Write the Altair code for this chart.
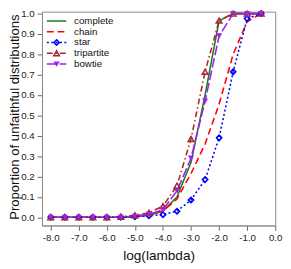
import altair as alt
import pandas as pd

log_lambda = [-8.0, -7.5, -7.0, -6.5, -6.0, -5.5, -5.0, -4.5, -4.0, -3.5, -3.0, -2.5, -2.0, -1.5, -1.0, -0.5]

complete = [0, 0, 0, 0, 0, 0, 0.003, 0.010, 0.030, 0.100, 0.270, 0.600, 0.965, 1.0, 1.0, 1.0]
chain = [0, 0, 0, 0, 0, 0, 0.005, 0.015, 0.030, 0.090, 0.215, 0.360, 0.555, 0.800, 0.960, 1.0]
star = [0, 0, 0, 0, 0, 0, 0.003, 0.008, 0.013, 0.030, 0.085, 0.185, 0.390, 0.714, 0.976, 1.0]
tripartite = [0, 0, 0, 0, 0, 0.003, 0.010, 0.022, 0.055, 0.155, 0.385, 0.714, 0.966, 1.0, 1.0, 1.0]
bowtie = [0, 0, 0, 0, 0, 0, 0.005, 0.015, 0.037, 0.130, 0.290, 0.570, 0.890, 1.0, 1.0, 1.0]

series_names = ["complete", "chain", "star", "tripartite", "bowtie"]
series_values = [complete, chain, star, tripartite, bowtie]
colors = ["#1a7f1a", "#ff0000", "#0000ff", "#a52a2a", "#a020f0"]
dashes = [[1, 0], [7, 4], [2, 2.5], [6, 3, 1.5, 3], [10, 3]]

x_ticks = [-8.0, -7.0, -6.0, -5.0, -4.0, -3.0, -2.0, -1.0, 0.0]
y_ticks = [0.0, 0.1, 0.2, 0.3, 0.4, 0.5, 0.6, 0.7, 0.8, 0.9, 1.0]

rows = []
for name, vals in zip(series_names, series_values):
    for xv, yv in zip(log_lambda, vals):
        rows.append({"x": xv, "y": yv, "series": name})
df = pd.DataFrame(rows)

color_scale = alt.Scale(domain=series_names, range=colors)
dash_scale = alt.Scale(domain=series_names, range=dashes)

lab = "replace(format(datum.value, '.1f'), '\u2212', '-')"

x_axis = alt.Axis(values=x_ticks, labelExpr=lab, title="log(lambda)", grid=False,
                  tickSize=5, labelPadding=2, titleY=35, titleBaseline="alphabetic",
                  labelOverlap=False, labelFlush=False, labelBound=False)
y_axis = alt.Axis(values=y_ticks, labelExpr=lab, title="Proportion of unfaithful distributions",
                  grid=False, tickSize=5, labelPadding=3, titleX=-28, titleY=108,
                  titleAngle=-90, titleAlign="center", titleBaseline="middle",
                  titleFontSize=13.5, labelOverlap=False, labelFlush=False)
x_scale = alt.Scale(domain=[-8.31, 0.0], nice=False, zero=False)
y_scale = alt.Scale(domain=[-0.04, 1.0095], nice=False, zero=False)

def X():
    return alt.X("x:Q", scale=x_scale, axis=x_axis)

def Y():
    return alt.Y("y:Q", scale=y_scale, axis=y_axis)

base = alt.Chart(df)

lines = base.mark_line(strokeWidth=1.6).encode(
    x=X(), y=Y(),
    color=alt.Color("series:N", scale=color_scale, legend=None),
    strokeDash=alt.StrokeDash("series:N", scale=dash_scale, legend=None),
    detail="series:N",
    order=alt.Order("x:Q"),
)

def pts(name, shape, filled, size, sw):
    return base.transform_filter(alt.datum.series == name).mark_point(
        shape=shape, filled=filled, size=size, strokeWidth=sw, opacity=1
    ).encode(
        x=X(), y=Y(),
        color=alt.Color("series:N", scale=color_scale, legend=None),
    )

p_star = pts("star", "diamond", False, 30, 1.6)
p_tri = pts("tripartite", "triangle-up", False, 36, 1.5)
p_bow = pts("bowtie", "triangle-down", True, 40, 1)

# manual legend (positions computed, in pixels relative to the plot area)
leg_rows = []
for i, name in enumerate(series_names):
    py = 9.5 + i * 11.1
    leg_rows.append({"series": name, "ly": py, "lx1": 5, "lx2": 25, "mx": 15, "tx": 33})
leg = pd.DataFrame(leg_rows)
lbase = alt.Chart(leg)

leg_lines = lbase.mark_rule(strokeWidth=1.6).encode(
    x=alt.X("lx1:Q", scale=None, axis=None), x2="lx2:Q",
    y=alt.Y("ly:Q", scale=None, axis=None),
    color=alt.Color("series:N", scale=color_scale, legend=None),
    strokeDash=alt.StrokeDash("series:N", scale=dash_scale, legend=None),
)

def leg_pt(name, shape, filled, size, sw):
    return lbase.transform_filter(alt.datum.series == name).mark_point(
        shape=shape, filled=filled, size=size, strokeWidth=sw, opacity=1
    ).encode(
        x=alt.X("mx:Q", scale=None, axis=None), y=alt.Y("ly:Q", scale=None, axis=None),
        color=alt.Color("series:N", scale=color_scale, legend=None),
    )

leg_text = lbase.mark_text(align="left", baseline="middle", fontSize=10,
                           font="Liberation Sans", color="#111").encode(
    x=alt.X("tx:Q", scale=None, axis=None), y=alt.Y("ly:Q", scale=None, axis=None),
    text="series:N"
)

chart = alt.layer(
    lines, p_star, p_tri, p_bow,
    leg_lines,
    leg_pt("star", "diamond", False, 30, 1.6),
    leg_pt("tripartite", "triangle-up", False, 36, 1.5),
    leg_pt("bowtie", "triangle-down", True, 40, 1),
    leg_text,
).properties(
    width=240, height=220,
    autosize=alt.AutoSizeParams(type="none"),
    padding={"left": 35, "top": 0, "right": 8, "bottom": 40},
).configure_view(
    stroke="#888888", strokeWidth=1
).configure_axis(
    domainColor="#888888", tickColor="#666666", labelFont="Liberation Sans",
    titleFont="Liberation Sans", labelFontSize=10, titleFontSize=14,
    labelColor="#222222", titleColor="#111111", titleFontWeight="normal",
)

chart.save("out.html", embed_options={"renderer": "svg", "actions": False})
